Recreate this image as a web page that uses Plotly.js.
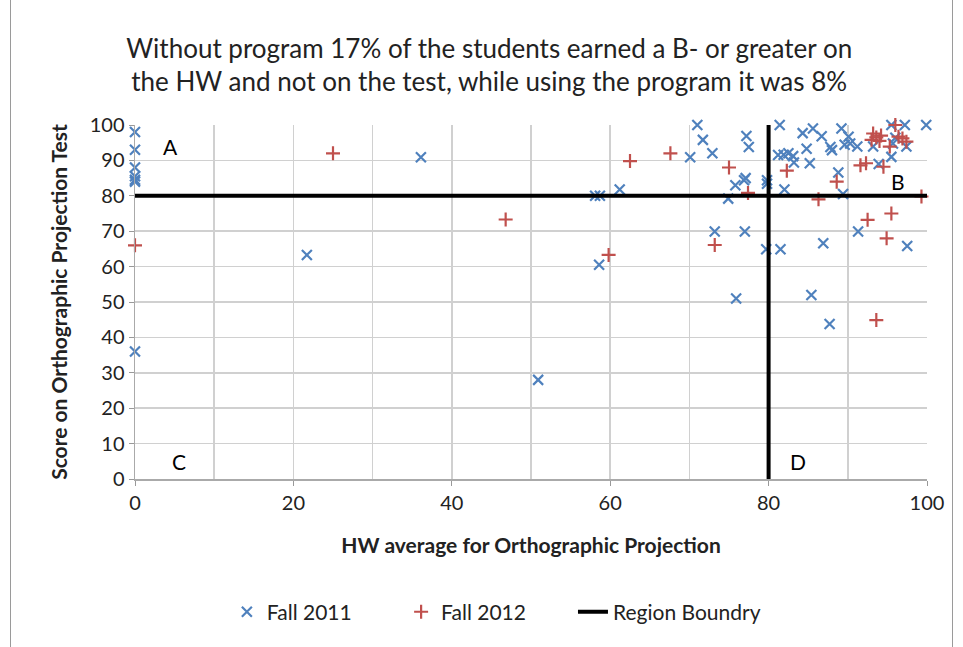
<!DOCTYPE html>
<html>
<head>
<meta charset="utf-8">
<script src="https://cdn.plot.ly/plotly-3.0.1.min.js"></script>
<style>
html,body{margin:0;padding:0;background:#fff;}
#wrap{position:relative;width:963px;height:647px;}
#chart{position:absolute;left:0;top:0;width:963px;height:647px;}
#frame{position:absolute;left:10px;top:0;width:941px;height:647px;border-left:1.5px solid #9a9a9a;border-right:1.5px solid #9a9a9a;pointer-events:none;}
</style>
</head>
<body>
<div id="wrap"><div id="chart"></div><div id="frame"></div></div>
<script>
// Fall 2011 (blue x)
const fall2011X = [0,0,0,0,0,0,0,21.7,36.1,50.9,58.1,58.7,61.2,58.6,70.1,71,71.7,72.9,77.2,77.5,75.8,77.1,76.9,74.9,79.8,79.8,81.4,84.3,85.6,86.7,87.8,88,84.8,89.2,90.1,90.3,89.6,91.2,81.2,81.9,82.5,83.1,83.2,85.2,88.8,82,89.4,95.5,97.2,99.9,96,95.7,97.4,93.2,95.5,93.9,73.2,77,79.7,81.5,86.9,91.3,97.5,75.9,85.4,87.7];
const fall2011Y = [98,93,88,85.5,84.5,84,36,63.3,90.9,28,80,80,81.8,60.5,90.9,100,95.8,92,96.9,93.8,83,85,84.4,79.2,84.4,83.4,100,97.7,99,96.8,93.8,92.9,93.3,99,96.7,94.8,94.4,93.9,91.5,91.6,92,91.2,89.4,89.2,86.6,81.8,80.5,100,100,100,96.4,94.8,93.9,93.9,91,89,69.9,69.9,64.9,64.9,66.6,69.9,65.8,51,52,43.8];
// Fall 2012 (red +)
const fall2012X = [0,25,46.8,59.8,62.5,67.6,75,77.4,82.3,86.3,88.6,91.6,92.3,94.5,93.2,93.6,94,93,94.2,96,96.4,96.9,97.4,95.3,99.3,95.5,92.5,73.2,94.9,93.6];
const fall2012Y = [66,92,73.3,63.3,89.8,92,88,80.8,87.1,79,84,88.6,89.2,88.2,97.6,96.5,95.5,95.8,97,100,96.7,96.2,95.3,93.9,79.8,75,73.2,66.1,68,44.9];
// Region boundary lines
const boundaryX = [0,100,null,80,80];
const boundaryY = [80,80,null,0,100];
// Region labels
const regionLabels = ['A','B','C','D'];
const regionLabelX = [4.5,96.3,5.5,83.7];
const regionLabelY = [94,84,5,5];
const xTickVals = [0,20,40,60,80,100];
const yTickVals = [0,10,20,30,40,50,60,70,80,90,100];

const FONT = 'Lato, "Open Sans", sans-serif';
const traces = [
  {x: fall2011X, y: fall2011Y, type:'scatter', mode:'markers', name:'Fall 2011', cliponaxis:false, legend:'legend',
   marker:{symbol:'x-thin', size:10, color:'#4F81BD', line:{color:'#4F81BD', width:2.2}}},
  {x: fall2012X, y: fall2012Y, type:'scatter', mode:'markers', name:'Fall 2012', cliponaxis:false, legend:'legend2',
   marker:{symbol:'cross-thin', size:10, color:'#C0504D', line:{color:'#C0504D', width:2.2}}},
  {x: boundaryX, y: boundaryY, type:'scatter', mode:'lines', name:'Region Boundry', cliponaxis:false, legend:'legend3',
   line:{color:'#000', width:4}, connectgaps:false}
];
const annotations = regionLabels.map((t,i)=>({x:regionLabelX[i], y:regionLabelY[i], xref:'x', yref:'y', text:t, showarrow:false, font:{family:FONT, size:21, color:'#000'}}));
const legendBase = {orientation:'h', xanchor:'left', y:-0.376, yanchor:'middle', font:{family:FONT, size:21, color:'#222'}, itemwidth:30, bgcolor:'rgba(0,0,0,0)'};
const layout = {
  width:963, height:647,
  margin:{l:135, r:36, t:125, b:168},
  paper_bgcolor:'rgba(0,0,0,0)', plot_bgcolor:'#fff',
  title:{text:'Without program 17% of the students earned a B- or greater on<br>the HW and not on the test, while using the program it was 8%',
         font:{family:FONT, size:26, color:'#222'}, x:0.508, xref:'container', xanchor:'center', y:0.911, yanchor:'middle'},
  xaxis:{range:[0,100], tickvals:xTickVals, showgrid:true, gridcolor:'#d0d0d0', gridwidth:1.5,
         minor:{dtick:10, tick0:0, showgrid:true, gridcolor:'#d0d0d0', gridwidth:1.5},
         ticks:'outside', ticklen:5, tickcolor:'#999', showline:true, linecolor:'#aaa', linewidth:1.5, zeroline:false,
         tickfont:{family:FONT, size:20, color:'#222'},
         title:{text:'<b>HW average for Orthographic Projection</b>', font:{family:FONT, size:21, color:'#222'}, standoff:26}},
  yaxis:{range:[0,100], tickvals:yTickVals, showgrid:true, gridcolor:'#d0d0d0', gridwidth:1.5,
         ticks:'outside', ticklen:5, tickcolor:'#999', showline:true, linecolor:'#aaa', linewidth:1.5, zeroline:false,
         tickfont:{family:FONT, size:20, color:'#222'},
         title:{text:'<b>Score on Orthographic Projection Test</b>', font:{family:FONT, size:21, color:'#222'}, standoff:16}},
  legend: Object.assign({}, legendBase, {x:0.116}),
  legend2: Object.assign({}, legendBase, {x:0.336}),
  legend3: Object.assign({}, legendBase, {x:0.553}),
  showlegend:true,
  annotations: annotations
};
Plotly.newPlot('chart', traces, layout, {displayModeBar:false, staticPlot:true});
</script>
</body>
</html>
